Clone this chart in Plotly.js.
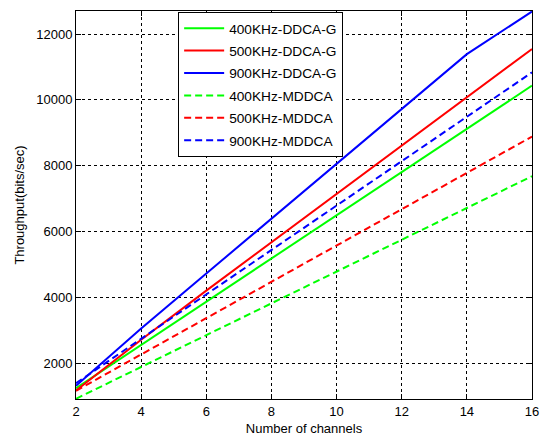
<!DOCTYPE html>
<html>
<head>
<meta charset="utf-8">
<script src="https://cdn.plot.ly/plotly-3.0.1.min.js"></script>
<style>html,body{margin:0;padding:0;background:#fff;}#chart{width:542px;height:438px;}</style>
</head>
<body>
<div id="chart"></div>
<script>
const channels = [2, 4, 6, 8, 10, 12, 14, 16];
const ddcag400 = [1250, 2560, 3870, 5180, 6500, 7810, 9120, 10433];
const ddcag500 = [1180, 2720, 4210, 5680, 7150, 8630, 10090, 11545];
const ddcag900 = [1320, 3060, 4730, 6390, 8060, 9725, 11390, 12685];
const mddca400 = [927, 1890, 2860, 3825, 4790, 5757, 6720, 7685];
const mddca500 = [1170, 2270, 3370, 4480, 5580, 6680, 7780, 8887];
const mddca900 = [1400, 2750, 4100, 5440, 6790, 8140, 9490, 10836];
const seriesNames = ['400KHz-DDCA-G','500KHz-DDCA-G','900KHz-DDCA-G','400KHz-MDDCA','500KHz-MDDCA','900KHz-MDDCA'];
const xTicks = [2, 4, 6, 8, 10, 12, 14, 16];
const yTicks = [2000, 4000, 6000, 8000, 10000, 12000];

const seriesData = [ddcag400, ddcag500, ddcag900, mddca400, mddca500, mddca900];
const colors = ['#00ff00', '#ff0000', '#0000ff', '#00ff00', '#ff0000', '#0000ff'];
const dashes = ['solid', 'solid', 'solid', '7px,4px', '7px,4px', '7px,4px'];

const traces = seriesData.map((y, i) => ({
  x: channels, y: y, name: seriesNames[i], type: 'scatter', mode: 'lines',
  legendgroup: 'g' + i,
  line: {color: colors[i], width: 2, dash: dashes[i]}
}));

const font = {family: 'Liberation Sans, Arial, sans-serif', size: 13, color: '#000'};
const axisCommon = {
  showline: true, mirror: 'ticks', linecolor: '#000', linewidth: 1,
  ticks: 'inside', ticklen: 5, tickcolor: '#000', tickwidth: 1,
  showgrid: true, gridcolor: '#000', griddash: 'dot', gridwidth: 1,
  zeroline: false, tickfont: font
};

const layout = {
  width: 542, height: 438,
  margin: {l: 76, r: 10, t: 11, b: 39},
  paper_bgcolor: '#fff', plot_bgcolor: '#fff',
  font: font,
  showlegend: true,
  legend: {
    x: 0.224, y: 0.998, xanchor: 'left', yanchor: 'top',
    bgcolor: '#fff', bordercolor: '#000', borderwidth: 1,
    font: {family: 'Liberation Sans, Arial, sans-serif', size: 13.7, color: '#000'},
    itemwidth: 40, tracegroupgap: 1.6
  },
  xaxis: Object.assign({}, axisCommon, {
    range: [2, 16], tickvals: xTicks, ticktext: xTicks.map(String),
    title: {text: 'Number of channels', font: font, standoff: 6}
  }),
  yaxis: Object.assign({}, axisCommon, {
    range: [920, 12700], tickvals: yTicks, ticktext: yTicks.map(String),
    title: {text: 'Throughput(bits/sec)', font: font, standoff: 8}
  })
};

Plotly.newPlot('chart', traces, layout, {displayModeBar: false, staticPlot: true});
</script>
</body>
</html>
